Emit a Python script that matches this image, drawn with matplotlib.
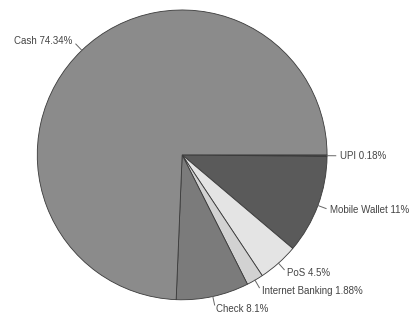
import numpy as np
import matplotlib
matplotlib.use("Agg")
import matplotlib.pyplot as plt

plt.rcParams['font.family'] = ['Liberation Sans', 'DejaVu Sans']

# payment mode share, clockwise from 3 o'clock
modes = ['UPI', 'Mobile Wallet', 'PoS', 'Internet Banking', 'Check', 'Cash']
shares = [0.18, 11, 4.5, 1.88, 8.1, 74.34]
labels = ['UPI 0.18%', 'Mobile Wallet 11%', 'PoS 4.5%', 'Internet Banking 1.88%', 'Check 8.1%', 'Cash 74.34%']
colors = ['#4a4a4a', '#5a5a5a', '#e4e4e4', '#d2d2d2', '#7b7b7b', '#8b8b8b']

fig = plt.figure(figsize=(4.14, 3.22), dpi=100)
ax = fig.add_axes([0.09, 0.069, 0.70, 0.90])

wedges, _ = ax.pie(shares, colors=colors, startangle=0, counterclock=False,
                   wedgeprops=dict(edgecolor='#3a3a3a', linewidth=0.6))
ax.set_xlim(-1, 1)
ax.set_ylim(-1, 1)
ax.set_aspect('equal')

for w, lab in zip(wedges, labels):
    mid = np.deg2rad((w.theta1 + w.theta2) / 2)
    c, s = np.cos(mid), np.sin(mid)
    ax.plot([c * 1.0, c * 1.06], [s * 1.0, s * 1.06], color='#666666', lw=0.7, clip_on=False)
    ha = 'left' if c >= 0 else 'right'
    ax.text(c * 1.09, s * 1.09, lab, ha=ha, va='center', fontsize=7, color='#444444')

fig.savefig('out.png', dpi=100)
